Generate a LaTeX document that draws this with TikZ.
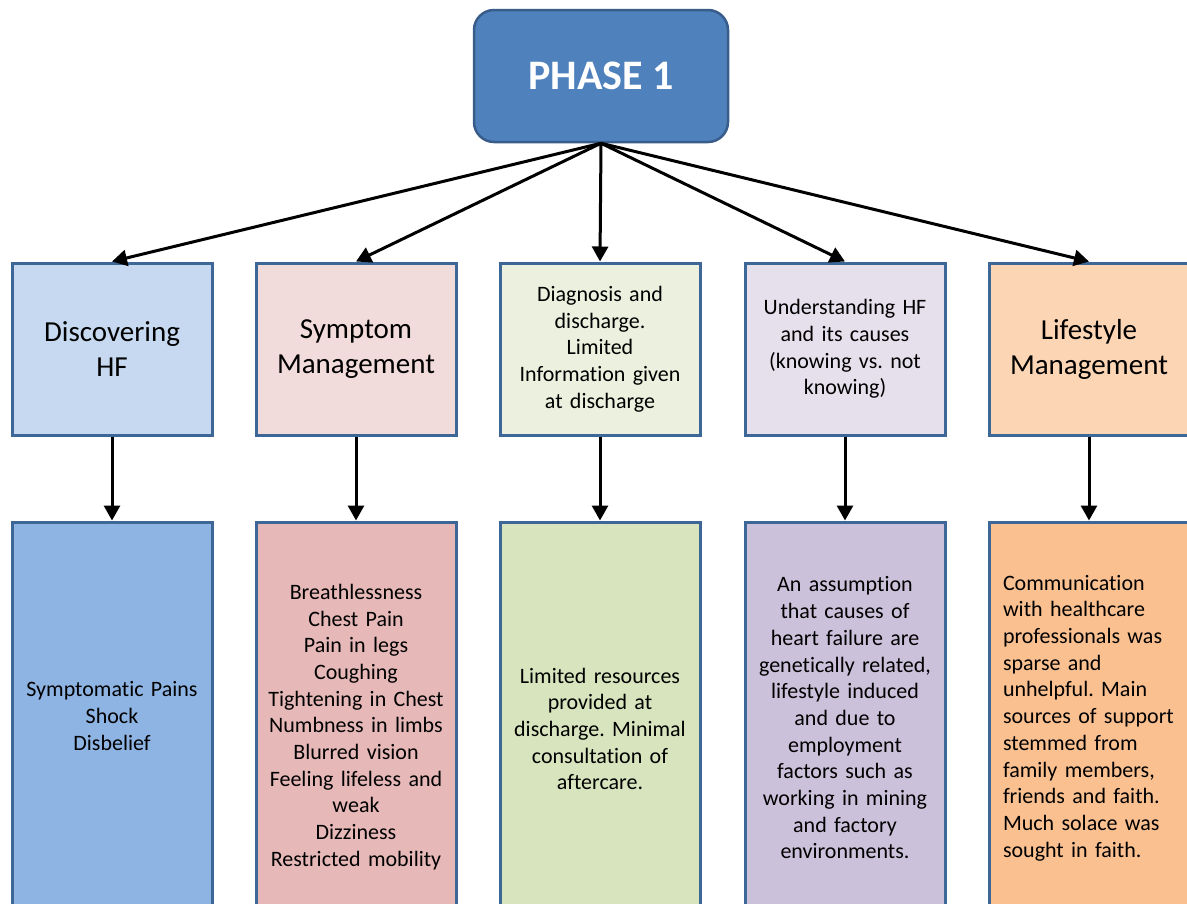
\documentclass[tikz,border=0pt]{standalone}
\usepackage{fontspec}
\setmainfont{Carlito}[Ligatures=NoCommon]
\frenchspacing
\usetikzlibrary{arrows.meta}
\definecolor{bord}{HTML}{3D6796}
\definecolor{phfill}{HTML}{4F81BD}
\definecolor{phbord}{HTML}{385D8A}
\definecolor{ta}{HTML}{C6D9F1}\definecolor{ba}{HTML}{8EB4E3}
\definecolor{tb}{HTML}{F2DCDB}\definecolor{bb}{HTML}{E6B9B8}
\definecolor{tc}{HTML}{EBF1DE}\definecolor{bc}{HTML}{D7E4BD}
\definecolor{td}{HTML}{E6E0EC}\definecolor{bd}{HTML}{CCC1DA}
\definecolor{te}{HTML}{FCD5B5}\definecolor{be}{HTML}{FAC090}
\tikzset{
  phasebox/.style={draw=phbord, line width=2.5pt, fill=phfill, rounded corners=20pt,
    minimum width=254pt, minimum height=132pt, text=white,
    font=\fontsize{42}{50}\selectfont\bfseries},
  topbox/.style={draw=bord, line width=3pt, minimum width=200pt, minimum height=172pt,
    align=center, inner sep=0pt, text width=190pt},
  bigtext/.style={font=\fontsize{29}{35}\selectfont},
  smalltext/.style={font=\fontsize{22}{26.7}\selectfont},
  botbox/.style={draw=bord, line width=3pt, minimum width=200pt, align=center,
    inner sep=0pt, text width=190pt, font=\fontsize{22}{26.7}\selectfont},
  arr/.style={line width=3pt, -{Triangle[length=15pt,width=16pt]}}
}
\begin{document}
\begin{tikzpicture}[x=1pt,y=-1pt]
\useasboundingbox (0,0) rectangle (1187,903);
\clip (0,0) rectangle (1187,903);
\node[phasebox] (p) at (601,76) {PHASE 1};
% top row
\node[topbox, bigtext, fill=ta] (t1) at (112,349) {Discovering\\HF};
\node[topbox, bigtext, fill=tb] (t2) at (356,349) {Symptom\\Management};
\node[topbox, smalltext, fill=tc] (t3) at (600,349) {Diagnosis and\\discharge.\\Limited\\Information given\\at discharge};
\node[topbox, smalltext, fill=td] (t4) at (845,349) {Understanding HF\\and its causes\\(knowing vs. not\\knowing)};
\node[topbox, bigtext, fill=te] (t5) at (1089,349) {Lifestyle\\Management};
% bottom row
\node[botbox, fill=ba, minimum height=388pt] (b1) at (112,716) {Symptomatic Pains\\Shock\\Disbelief};
\node[botbox, fill=bb, minimum height=410pt] (b2) at (356,727) {Breathlessness\\Chest Pain\\Pain in legs\\Coughing\\Tightening in Chest\\Numbness in limbs\\Blurred vision\\Feeling lifeless and\\weak\\Dizziness\\Restricted mobility};
\node[botbox, fill=bc, minimum height=414pt] (b3) at (600,729) {Limited resources\\provided at\\discharge. Minimal\\consultation of\\aftercare.};
\node[botbox, fill=bd, minimum height=392pt] (b4) at (845,718) {An assumption\\that causes of\\heart failure are\\genetically related,\\lifestyle induced\\and due to\\employment\\factors such as\\working in mining\\and factory\\environments.};
\node[botbox, fill=be, minimum height=392pt, align=left, text width=172pt] (b5) at (1089,718) {Communication\\with healthcare\\professionals was\\sparse and\\unhelpful. Main\\sources of support\\stemmed from\\family members,\\friends and faith.\\Much solace was\\sought in faith.};
% arrows
\foreach \i in {1,...,5}{
  \draw[arr] (p.south) -- (t\i.north);
  \draw[arr] (t\i.south) -- (b\i.north);
}
\end{tikzpicture}
\end{document}
